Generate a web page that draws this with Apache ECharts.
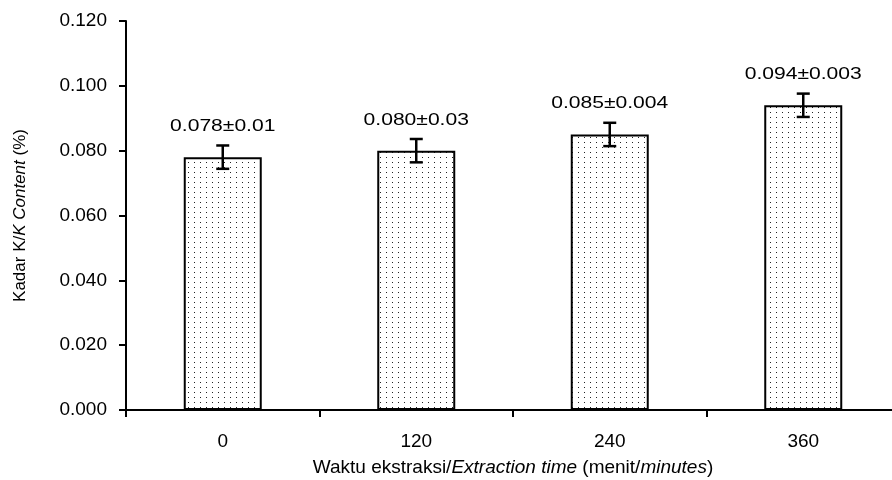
<!DOCTYPE html>
<html>
<head>
<meta charset="utf-8">
<script src="https://cdn.jsdelivr.net/npm/echarts@6/dist/echarts.min.js"></script>
<style>
  html, body { margin: 0; padding: 0; background: #fff; }
  #chart { width: 892px; height: 480px; }
</style>
</head>
<body>
<div id="chart"></div>
<script>
const categories = ['0', '120', '240', '360'];
const values = [0.078, 0.080, 0.085, 0.094];
const errors = [0.0036, 0.0036, 0.0036, 0.0036];
const labels = ['0.078±0.01', '0.080±0.03', '0.085±0.004', '0.094±0.003'];
const yMin = 0;
const yMax = 0.12;
const yStep = 0.02;

const FONT = "'Liberation Sans', Arial, sans-serif";

// dotted fill like the spreadsheet pattern
const tile = document.createElement('canvas');
tile.width = 6;
tile.height = 5;
const tctx = tile.getContext('2d');
tctx.fillStyle = '#fff';
tctx.fillRect(0, 0, 6, 5);
tctx.fillStyle = '#222';
tctx.fillRect(2, 2, 1, 1);

const chart = echarts.init(document.getElementById('chart'));

const option = {
  animation: false,
  textStyle: { fontFamily: FONT },
  grid: { left: 126, top: 21, width: 774, bottom: 70, outerBoundsMode: 'none', containLabel: false },
  xAxis: {
    type: 'category',
    data: categories,
    name: '{n|Waktu ekstraksi/}{i|Extraction time}{n| (menit/}{i|minutes}{n|)}',
    nameLocation: 'middle',
    nameGap: 48,
    nameTextStyle: {
      rich: {
        n: { fontSize: 19, color: '#000', fontFamily: FONT },
        i: { fontSize: 19, color: '#000', fontFamily: FONT, fontStyle: 'italic' }
      }
    },
    axisLine: { lineStyle: { color: '#000', width: 2 } },
    axisTick: { show: true, length: 7, lineStyle: { color: '#000', width: 2 } },
    axisLabel: { color: '#000', fontSize: 19, margin: 22 }
  },
  yAxis: {
    type: 'value',
    min: yMin,
    max: yMax,
    interval: yStep,
    name: '{n|Kadar K/}{i|K Content}{n| (%)}',
    nameLocation: 'middle',
    nameGap: 97,
    nameTextStyle: {
      rich: {
        n: { fontSize: 17, color: '#000', fontFamily: FONT },
        i: { fontSize: 17, color: '#000', fontFamily: FONT, fontStyle: 'italic' }
      }
    },
    axisLine: { show: true, lineStyle: { color: '#000', width: 2 } },
    axisTick: { show: true, length: 7, lineStyle: { color: '#000', width: 2 } },
    axisLabel: { color: '#000', fontSize: 19, margin: 19, formatter: v => v.toFixed(3) },
    splitLine: { show: false }
  },
  series: [
    {
      type: 'bar',
      data: values,
      barWidth: 78,
      itemStyle: {
        color: { image: tile, repeat: 'repeat' },
        borderColor: '#000',
        borderWidth: 2
      }
    },
    {
      type: 'custom',
      data: values.map((v, i) => [i, v, errors[i]]),
      z: 10,
      renderItem: function (params, api) {
        const i = api.value(0);
        const v = api.value(1);
        const e = api.value(2);
        const top = api.coord([i, v + e]);
        const bot = api.coord([i, v - e]);
        const half = 6.5;
        const ls = { stroke: '#000', lineWidth: 2.5 };
        return {
          type: 'group',
          children: [
            { type: 'line', shape: { x1: top[0], y1: top[1], x2: bot[0], y2: bot[1] }, style: ls },
            { type: 'line', shape: { x1: top[0] - half, y1: top[1], x2: top[0] + half, y2: top[1] }, style: ls },
            { type: 'line', shape: { x1: bot[0] - half, y1: bot[1], x2: bot[0] + half, y2: bot[1] }, style: ls },
            {
              type: 'text',
              x: top[0],
              y: top[1] - 19,
              scaleX: 1.24,
              style: {
                text: labels[params.dataIndex],
                x: 0,
                y: 0,
                align: 'center',
                verticalAlign: 'middle',
                font: '17px ' + FONT,
                fill: '#000'
              }
            }
          ]
        };
      }
    }
  ]
};

chart.setOption(option);
</script>
</body>
</html>
